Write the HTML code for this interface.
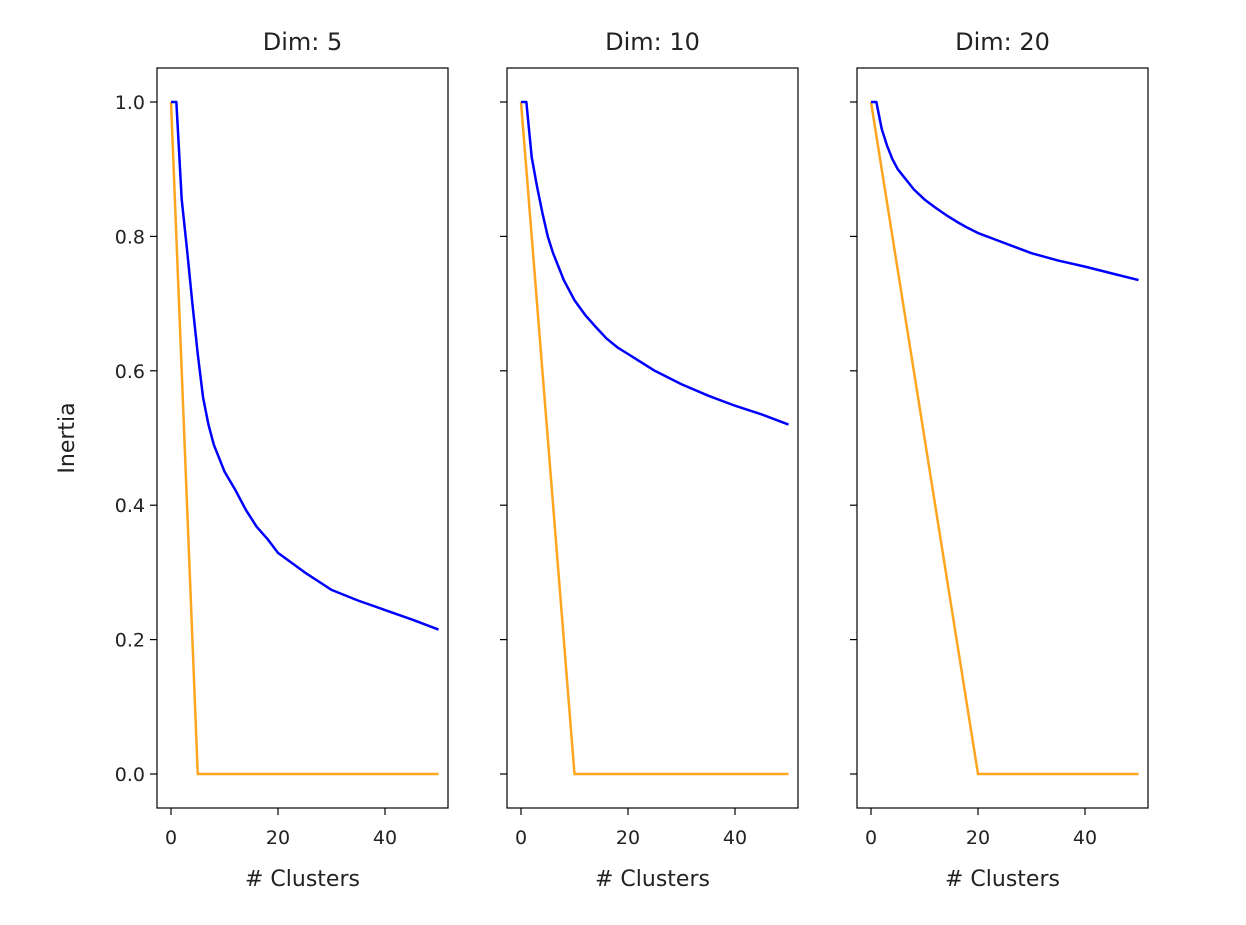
<!DOCTYPE html>
<html><head><meta charset="utf-8"><style>
body{margin:0;background:#fff;font-family:"Liberation Sans","DejaVu Sans",sans-serif}
svg text{font-family:"DejaVu Sans","Liberation Sans",sans-serif;fill:#222}
</style></head><body>
<svg id="chart" width="1246" height="920"></svg>
<script>
const dims=[5,10,20];
const xVals=[0,1,2,3,4,5,6,7,8,10,12,14,16,18,20,25,30,35,40,45,50];
const blue5=[1,1,0.855,0.78,0.70,0.625,0.56,0.52,0.49,0.45,0.423,0.393,0.368,0.35,0.329,0.30,0.274,0.258,0.244,0.23,0.215];
const blue10=[1,1,0.918,0.874,0.835,0.80,0.775,0.755,0.735,0.705,0.683,0.665,0.648,0.635,0.625,0.60,0.58,0.563,0.548,0.535,0.52];
const blue20=[1,1,0.96,0.935,0.915,0.90,0.89,0.88,0.87,0.855,0.843,0.832,0.822,0.813,0.805,0.79,0.775,0.764,0.755,0.745,0.735];
const blueSeries=[blue5,blue10,blue20];
const yTicks=[0,0.2,0.4,0.6,0.8,1.0];
const xTicks=[0,20,40];
const NS="http://www.w3.org/2000/svg";
const svg=document.getElementById('chart');
function mk(t,a,p){const e=document.createElementNS(NS,t);for(const k in a)e.setAttribute(k,a[k]);(p||svg).appendChild(e);return e;}
const lefts=[157,507,857],W=291,plotTop=68,H=740;
const yS=v=>774-v*672;
dims.forEach((d,i)=>{
  const L=lefts[i];const xS=v=>L+14+v*5.35;
  const g=mk('g',{});
  
  
  const t=mk('text',{x:L+W/2,y:50,'text-anchor':'middle','font-size':24},g);t.textContent='Dim: '+d;
  
  
  yTicks.forEach(v=>{mk('line',{x1:L-7,x2:L,y1:yS(v),y2:yS(v),stroke:'#000','stroke-width':1.2},g);
    if(i==0){const tx=mk('text',{x:L-12,y:yS(v)+7,'text-anchor':'end','font-size':19},g);tx.textContent=v.toFixed(1);
    
    }});
  xTicks.forEach(v=>{mk('line',{x1:xS(v),x2:xS(v),y1:plotTop+H,y2:plotTop+H+7,stroke:'#000','stroke-width':1.2},g);
    const tx=mk('text',{x:xS(v),y:plotTop+H+36,'text-anchor':'middle','font-size':19},g);tx.textContent=v;
    
    });
  const xl=mk('text',{x:L+W/2,y:886,'text-anchor':'middle','font-size':22},g);xl.textContent='# Clusters';
  
  
  const op=mk('polyline',{points:[[xS(0),yS(1)],[xS(d),yS(0)],[xS(50),yS(0)]].join(' '),fill:'none',stroke:'#ffa520','stroke-width':2.5},g);
  
  
  const bp=mk('polyline',{points:xVals.map((x,j)=>xS(x)+','+yS(blueSeries[i][j])).join(' '),fill:'none',stroke:'#0000ff','stroke-width':2.5,'stroke-linejoin':'round'},g);
  
  
  const fr=mk('rect',{x:L,y:plotTop,width:W,height:H,fill:'none',stroke:'#000','stroke-width':1.2},g);
  
  
});
const yl=mk('text',{x:0,y:0,'text-anchor':'middle','font-size':22,transform:'translate(74,438) rotate(-90)'});
yl.textContent='Inertia';


</script>
</body></html>
